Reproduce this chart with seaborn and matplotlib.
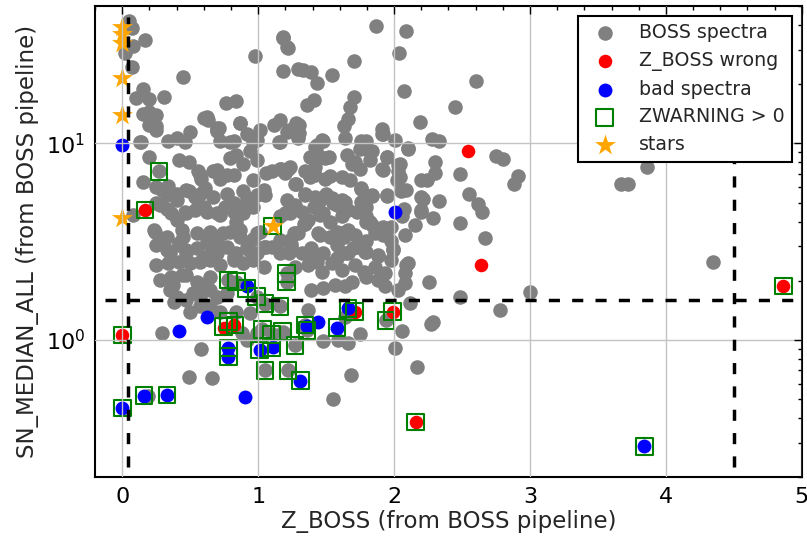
import numpy as np
import pandas as pd
import matplotlib
matplotlib.use("Agg")
import matplotlib.pyplot as plt
import seaborn as sns
from matplotlib.ticker import AutoMinorLocator, LogLocator, NullFormatter

# ---------------- data ----------------
boss_points = [
    (0.05, 42.0), (0.07, 38.5), (0.17, 33.5), (0.08, 31.3), (0.02, 28.8), (0.98, 27.8), (0.07, 24.5),
    (0.45, 21.8), (0.15, 18.9), (0.10, 17.0), (0.20, 16.8), (0.31, 17.2), (0.76, 16.0), (0.84, 16.5),
    (0.155, 14.1), (0.20, 14.5), (0.25, 14.0), (0.20, 12.4), (0.25, 12.2), (0.62, 13.6), (0.63, 13.2),
    (0.70, 12.0), (0.87, 12.7), (0.08, 4.3), (0.13, 10.2),
    (1.87, 39.5), (2.085, 37.2), (1.185, 34.4), (1.22, 30.4), (2.035, 28.7), (1.705, 26.2), (1.185, 23.4),
    (1.33, 23.7), (1.39, 23.1), (1.43, 20.4), (1.545, 22.4), (2.60, 20.7), (2.07, 18.5), (2.45, 15.4),
    (1.36, 15.6), (1.41, 16.6), (1.705, 17.3), (1.675, 15.3), (1.66, 13.3), (1.63, 12.2), (2.19, 12.8),
    (2.28, 10.5), (2.33, 10.3), (1.16, 13.1), (1.23, 11.7), (1.30, 12.4), (1.30, 11.3), (1.16, 10.2),
    (1.64, 10.6), (1.79, 10.3), (1.92, 11.1), (2.01, 10.4), (2.10, 9.5), (1.75, 9.4), (1.835, 9.2),
    (1.47, 10.4), (1.43, 9.8), (1.38, 8.5), (1.49, 8.4), (1.65, 8.7), (1.69, 7.9), (1.75, 7.45),
    (1.82, 8.2), (1.95, 8.5), (2.04, 7.9), (2.03, 7.2), (2.02, 6.5), (1.92, 7.3), (2.30, 8.0),
    (2.30, 7.05), (2.24, 6.5), (2.485, 7.0), (2.75, 8.6), (2.80, 8.3), (2.915, 6.8), (2.88, 6.2),
    (2.55, 5.5), (2.615, 4.9), (2.645, 4.5), (2.485, 3.95), (2.67, 3.3), (2.33, 5.1), (2.29, 4.15),
    (2.21, 5.2), (2.20, 4.6), (2.09, 5.8), (2.05, 5.7), (2.07, 4.66), (2.06, 4.27), (1.945, 5.4),
    (1.76, 5.85), (1.835, 5.4), (1.76, 5.05), (1.75, 4.6), (1.79, 4.25), (1.82, 4.0), (1.92, 3.77),
    (1.92, 3.42), (1.98, 3.2), (1.995, 2.9), (2.09, 2.4), (1.885, 2.67), (1.785, 2.79), (1.695, 2.93),
    (1.64, 2.76), (1.58, 2.6), (1.53, 4.0), (1.455, 3.4), (1.66, 3.62), (1.63, 3.33), (1.34, 3.9),
    (1.28, 3.5), (1.245, 3.06), (1.23, 2.76), (1.405, 2.7), (1.43, 2.5), (1.50, 5.55), (1.55, 4.95),
    (1.455, 5.15), (1.41, 4.77), (1.48, 4.4), (1.615, 5.15), (1.65, 4.6), (1.28, 6.2), (1.345, 5.5),
    (1.21, 5.15), (1.235, 4.4), (1.16, 4.25), (1.38, 6.75), (1.42, 7.6), (1.53, 6.8), (1.22, 7.45),
    (1.16, 7.45), (1.91, 11.8),
    (0.14, 10.15), (0.25, 11.7), (0.34, 10.3), (0.40, 10.6), (0.46, 10.2), (0.50, 11.4), (0.695, 11.7),
    (0.72, 10.3), (0.82, 10.3), (0.915, 11.2), (0.96, 10.2), (0.20, 8.55), (0.155, 6.37), (0.29, 5.8),
    (0.33, 5.45), (0.42, 8.2), (0.49, 8.05), (0.56, 7.2), (0.58, 6.6), (0.47, 5.8), (0.535, 5.35),
    (0.61, 5.9), (0.695, 7.3), (0.77, 6.9), (0.79, 8.4), (0.84, 8.7), (0.89, 7.9), (0.94, 9.1),
    (0.915, 5.25), (0.99, 5.45), (1.04, 5.8), (0.28, 4.87), (0.36, 4.4), (0.40, 4.07), (0.46, 4.5),
    (0.535, 4.6), (0.62, 4.5), (0.72, 4.3), (0.755, 4.75), (0.82, 4.5), (0.84, 4.0), (0.89, 4.66),
    (0.94, 5.05), (0.24, 3.55), (0.28, 3.22), (0.45, 3.35), (0.42, 3.1), (0.645, 3.55), (0.695, 3.22),
    (0.79, 3.55), (0.865, 3.35), (0.965, 3.28), (1.01, 3.55),
    (1.28, 12.7), (1.21, 11.4), (0.71, 12.0), (0.79, 10.15), (0.865, 12.7), (1.01, 11.7), (0.99, 10.4),
    (1.15, 10.15), (0.57, 6.9), (0.67, 7.2), (0.72, 6.6), (0.82, 6.9), (0.99, 8.2), (0.965, 6.5),
    (1.06, 7.05), (1.20, 7.05), (1.27, 6.25), (0.25, 6.0), (0.34, 6.1), (0.40, 5.55), (0.49, 5.7),
    (0.57, 5.55), (0.67, 5.35), (0.77, 5.55), (0.89, 5.7), (0.25, 4.95), (0.33, 4.66), (0.40, 5.15),
    (0.47, 4.4), (0.60, 4.77), (0.695, 4.4), (0.82, 4.95), (0.89, 4.4), (0.965, 4.77), (0.23, 3.62),
    (0.33, 3.35), (0.44, 3.62), (0.55, 3.48), (0.62, 3.22), (0.74, 3.48), (0.865, 3.62), (0.99, 3.48),
    (1.04, 2.98), (1.16, 3.22), (1.26, 3.48), (0.35, 2.76), (0.47, 2.87), (0.60, 2.65), (0.695, 2.87),
    (0.82, 2.65), (0.93, 2.87), (1.18, 34.8), (1.21, 31.0), (1.295, 24.0), (0.60, 13.5), (0.70, 11.5),
    (1.12, 12.4), (1.295, 10.7), (1.48, 10.3), (1.42, 9.6), (1.76, 10.3), (1.79, 9.4), (1.91, 11.2),
    (2.105, 9.4), (1.945, 8.55), (1.44, 8.7), (1.52, 8.55), (1.71, 8.05), (1.91, 7.45), (2.03, 7.75),
    (2.045, 6.75), (2.20, 6.5), (1.10, 7.2), (1.17, 7.45), (1.235, 7.6), (1.345, 7.2), (1.42, 6.9),
    (1.49, 6.6), (1.615, 6.75), (1.675, 6.5), (1.76, 5.9), (1.835, 5.45), (1.945, 5.45), (2.055, 5.8),
    (2.20, 5.35), (1.05, 5.45), (1.27, 4.87), (1.345, 5.45), (1.42, 5.35), (1.44, 4.95), (1.54, 5.25),
    (1.58, 4.87), (1.64, 5.05), (1.66, 4.6), (1.725, 4.5), (1.79, 4.75), (1.20, 4.4), (1.32, 4.5),
    (1.37, 4.07), (1.455, 4.3), (1.615, 4.25), (1.79, 4.0), (1.835, 3.85), (1.86, 3.5), (1.345, 3.9),
    (1.295, 3.5), (1.44, 3.5), (1.53, 3.35), (1.58, 3.55), (1.64, 3.55), (1.71, 3.42), (1.79, 3.17),
    (1.235, 3.22), (1.98, 3.77), (2.08, 3.42), (2.155, 3.83), (2.20, 4.5),
    (0.25, 3.04), (0.33, 2.87), (0.42, 3.04), (0.47, 2.77), (0.55, 2.93), (0.645, 3.04), (0.695, 2.76),
    (0.77, 2.98), (0.84, 2.76), (0.915, 2.98), (0.99, 2.76), (1.06, 2.98), (0.25, 2.4), (0.34, 2.45),
    (0.42, 2.5), (0.50, 2.45), (0.57, 2.5), (0.645, 2.55), (0.72, 2.4), (0.82, 2.55), (0.89, 2.45),
    (0.965, 2.55), (1.04, 2.36), (0.28, 2.02), (0.36, 2.1), (0.47, 2.14), (0.55, 1.98), (0.60, 1.9),
    (0.645, 2.1), (0.375, 1.9), (0.44, 2.14), (0.35, 1.8), (0.40, 1.66), (0.38, 1.56), (0.47, 1.6),
    (0.52, 1.73), (0.57, 1.66), (0.645, 1.8), (0.695, 1.66), (0.77, 1.73), (0.57, 1.48), (0.50, 1.39),
    (0.29, 1.08), (0.58, 0.90), (0.88, 1.08), (0.915, 1.0), (0.99, 1.08), (0.645, 1.48), (0.72, 1.39),
    (0.84, 1.39), (0.94, 1.37), (0.49, 0.65), (0.66, 0.64), (0.19, 0.52),
    (1.10, 2.98), (1.16, 2.76), (1.245, 2.98), (1.32, 2.76), (1.39, 2.93), (1.48, 2.76), (1.58, 3.04),
    (1.66, 2.76), (1.725, 2.98), (1.79, 2.8), (1.885, 2.7), (1.995, 2.87), (2.105, 2.45), (2.08, 2.18),
    (1.27, 2.36), (1.37, 2.4), (1.47, 2.22), (1.54, 2.45), (1.615, 2.27), (1.71, 2.4), (1.775, 2.22),
    (1.86, 2.36), (1.93, 2.18), (1.98, 2.55), (1.39, 1.8), (1.48, 1.83), (1.565, 1.9), (1.64, 1.87),
    (1.69, 1.98), (1.79, 2.1), (1.885, 2.02), (1.93, 1.87), (2.03, 1.8), (2.08, 1.94), (1.37, 1.42),
    (1.64, 1.31), (1.75, 1.07),
    (1.55, 0.50), (1.68, 0.66), (2.17, 0.73), (2.01, 0.91), (2.27, 1.21), (2.29, 1.24), (2.06, 1.11),
    (1.48, 0.99), (1.59, 1.0), (1.66, 0.97), (2.78, 1.42), (2.485, 1.65), (3.0, 1.75), (2.26, 1.96),
    (2.12, 1.54),
    (3.67, 6.2), (3.72, 6.2), (3.86, 7.6), (4.35, 2.5),
    (0.27, 7.2), (0.78, 2.02), (0.84, 1.98), (0.99, 1.66), (1.05, 1.53), (1.16, 1.48), (1.03, 1.13),
    (1.10, 1.07), (1.18, 1.10), (1.05, 0.70), (1.22, 0.70), (1.21, 2.18), (1.21, 1.98), (1.36, 1.12),
    (1.27, 0.94), (1.94, 1.26), (1.345, 1.19),
]
boss_z = [p[0] for p in boss_points]
boss_sn = [p[1] for p in boss_points]

wrong_z = [0.0, 0.167, 0.745, 0.82, 1.71, 1.99, 2.16, 2.546, 2.64, 4.864]
wrong_sn = [1.06, 4.58, 1.15, 1.19, 1.39, 1.39, 0.382, 9.1, 2.4, 1.88]

bad_z = [0.0, 0.0, 0.16, 0.33, 0.42, 0.62, 0.90, 0.78, 0.78, 0.915, 1.01, 1.11, 1.31,
         1.36, 1.44, 1.58, 1.66, 2.007, 3.84]
bad_sn = [9.84, 0.45, 0.52, 0.525, 1.11, 1.31, 0.515, 0.91, 0.82, 1.87, 0.89, 0.92, 0.62,
          1.18, 1.24, 1.155, 1.45, 4.46, 0.287]

zwarn_z = [0.0, 0.0, 0.16, 0.33, 0.167, 0.27, 0.745, 0.78, 0.83, 0.78, 0.78, 0.78, 0.84,
           0.915, 0.99, 1.05, 1.16, 1.03, 1.10, 1.18, 1.01, 1.10, 1.05, 1.22, 1.31, 1.21,
           1.21, 1.345, 1.36, 1.58, 1.27, 1.66, 1.71, 1.99, 1.94, 2.16, 3.84, 4.864, 1.107]
zwarn_sn = [1.06, 0.45, 0.52, 0.525, 4.58, 7.2, 1.17, 1.24, 1.19, 0.91, 0.82, 2.02, 1.98,
            1.83, 1.66, 1.53, 1.48, 1.13, 1.07, 1.10, 0.89, 0.91, 0.70, 0.70, 0.62, 2.18,
            1.98, 1.19, 1.12, 1.16, 0.94, 1.45, 1.39, 1.39, 1.26, 0.382, 0.287, 1.88, 3.8]

star_z = [0.0, -0.005, 0.0, 0.0, 0.0, 0.0, 1.107]
star_sn = [39.2, 36.2, 32.3, 21.6, 13.9, 4.16, 3.8]

z_cut_low, z_cut_high, sn_cut = 0.045, 4.5, 1.6

# ---------------- style ----------------
sns.set_style("white")
plt.rcParams.update({
    "font.family": ["DejaVu Sans"],
    "mathtext.fontset": "dejavusans",
    "xtick.direction": "in", "ytick.direction": "in",
    "xtick.top": True, "ytick.right": True,
    "xtick.major.size": 6, "ytick.major.size": 6,
    "xtick.minor.size": 3, "ytick.minor.size": 3,
    "xtick.major.width": 1, "ytick.major.width": 1,
    "xtick.minor.width": 1, "ytick.minor.width": 1,
    "xtick.color": "black", "ytick.color": "black",
    "axes.edgecolor": "black", "axes.linewidth": 1.5,
    "lines.scale_dashes": False,
})

fig = plt.figure(figsize=(8.07, 5.37), dpi=100)
ax = fig.add_axes([0.1178, 0.1112, 0.8758, 0.8776])

sns.scatterplot(x=boss_z, y=boss_sn, ax=ax, color="gray", s=110, linewidth=0,
                label="BOSS spectra", zorder=1)
sns.scatterplot(x=wrong_z, y=wrong_sn, ax=ax, color="red", s=95, linewidth=0,
                label="Z_BOSS wrong", zorder=1.1)
sns.scatterplot(x=bad_z, y=bad_sn, ax=ax, color="blue", s=100, linewidth=0,
                label="bad spectra", zorder=1.2)
sns.scatterplot(x=zwarn_z, y=zwarn_sn, ax=ax, color="green", marker="s", s=145,
                linewidth=1.5, label="ZWARNING > 0", zorder=1.3)
sq = ax.collections[-1]
sq.set_facecolor("none")
sq.set_edgecolor("green")
sq.set_linewidth(1.5)
sns.scatterplot(x=star_z, y=star_sn, ax=ax, color="orange", marker="*", s=250,
                linewidth=0, label="stars", zorder=1.4)

dash = dict(color="black", lw=2.5, dashes=(8, 8.8), zorder=3)
ax.axvline(z_cut_low, ymin=0.0225, ymax=0.977, **dash)
ax.axvline(z_cut_high, ymin=0.0225, ymax=0.977, **dash)
ax.axhline(sn_cut, xmin=0.014, xmax=1.0, **dash)

ax.set_yscale("log")
ax.set_xlim(-0.2, 5.0)
ax.set_ylim(0.2, 50)
ax.xaxis.set_minor_locator(AutoMinorLocator(5))
ax.yaxis.set_minor_locator(LogLocator(base=10, subs=np.arange(2, 10)))
ax.yaxis.set_minor_formatter(NullFormatter())
ax.tick_params(which="both", labelsize=16, pad=7)

ax.set_axisbelow(False)
ax.grid(True, which="major", color="#c4c4c4", lw=1)

ax.set_xlabel("Z_BOSS (from BOSS pipeline)", fontsize=16.5, labelpad=2)
ax.set_ylabel("SN_MEDIAN_ALL (from BOSS pipeline)", fontsize=16.5, labelpad=5)

leg = ax.legend(loc="upper right", scatterpoints=1, fontsize=13.7, fancybox=False,
                framealpha=1, edgecolor="black", borderaxespad=0.5, handletextpad=0.8,
                labelspacing=0.46)
leg.get_frame().set_linewidth(1.5)
leg.set_zorder(10)

fig.savefig("out.png", dpi=100)
